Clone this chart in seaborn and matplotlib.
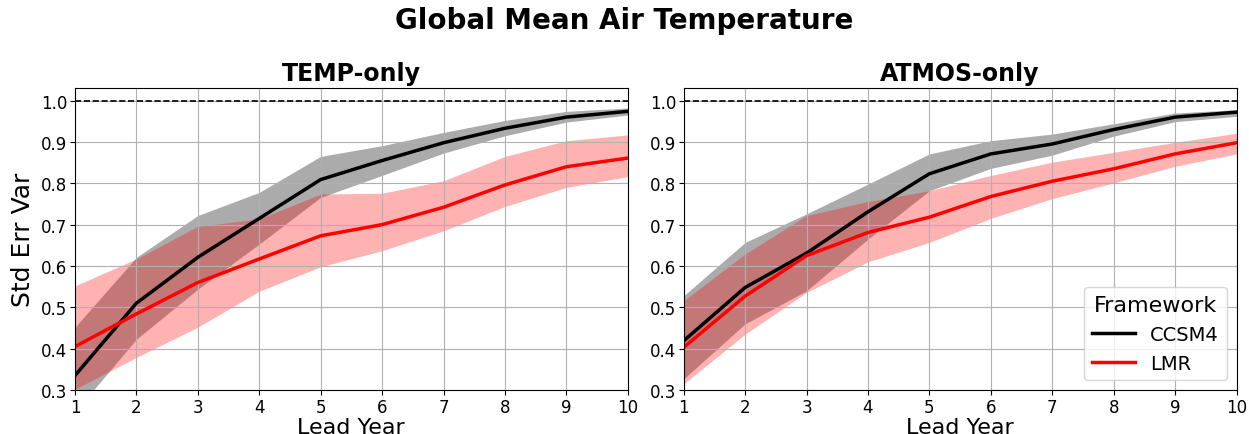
import pandas as pd
import numpy as np
import matplotlib
matplotlib.use("Agg")
import matplotlib.pyplot as plt
import seaborn as sns

lead = [1, 2, 3, 4, 5, 6, 7, 8, 9, 10]

# TEMP-only
temp_ccsm4 = [0.335, 0.51, 0.621, 0.715, 0.809, 0.855, 0.898, 0.933, 0.96, 0.974]
temp_ccsm4_hi = [0.452, 0.621, 0.722, 0.778, 0.865, 0.891, 0.923, 0.952, 0.974, 0.982]
temp_ccsm4_lo = [0.247, 0.423, 0.544, 0.653, 0.766, 0.819, 0.873, 0.915, 0.948, 0.965]
temp_lmr = [0.405, 0.484, 0.56, 0.617, 0.673, 0.70, 0.742, 0.796, 0.84, 0.861]
temp_lmr_hi = [0.552, 0.617, 0.696, 0.714, 0.774, 0.776, 0.806, 0.865, 0.903, 0.917]
temp_lmr_lo = [0.302, 0.379, 0.452, 0.539, 0.598, 0.637, 0.685, 0.744, 0.79, 0.816]

# ATMOS-only
atmos_ccsm4 = [0.419, 0.548, 0.631, 0.731, 0.823, 0.871, 0.895, 0.93, 0.96, 0.972]
atmos_ccsm4_hi = [0.528, 0.657, 0.726, 0.798, 0.871, 0.903, 0.919, 0.944, 0.97, 0.978]
atmos_ccsm4_lo = [0.327, 0.46, 0.54, 0.665, 0.782, 0.836, 0.868, 0.914, 0.949, 0.962]
atmos_lmr = [0.403, 0.527, 0.625, 0.681, 0.718, 0.768, 0.805, 0.835, 0.871, 0.898]
atmos_lmr_hi = [0.516, 0.629, 0.722, 0.756, 0.782, 0.819, 0.851, 0.875, 0.899, 0.921]
atmos_lmr_lo = [0.315, 0.435, 0.536, 0.61, 0.657, 0.715, 0.763, 0.801, 0.841, 0.871]

panels = {
    "TEMP-only": (temp_ccsm4, temp_ccsm4_lo, temp_ccsm4_hi, temp_lmr, temp_lmr_lo, temp_lmr_hi),
    "ATMOS-only": (atmos_ccsm4, atmos_ccsm4_lo, atmos_ccsm4_hi, atmos_lmr, atmos_lmr_lo, atmos_lmr_hi),
}

plt.rcParams['font.family'] = ['DejaVu Sans']

fig, axes = plt.subplots(1, 2, figsize=(12.49, 4.35), dpi=100)
fig.subplots_adjust(left=0.060, right=0.990, top=0.795, bottom=0.101, wspace=0.101)

colors = {"CCSM4": "black", "LMR": "red"}

for ax, (name, vals) in zip(axes, panels.items()):
    c, c_lo, c_hi, l, l_lo, l_hi = vals
    df = pd.DataFrame({
        "Lead Year": lead * 2,
        "Std Err Var": c + l,
        "Framework": ["CCSM4"] * len(lead) + ["LMR"] * len(lead),
    })
    ax.fill_between(lead, c_lo, c_hi, color="black", alpha=0.33, linewidth=0)
    ax.fill_between(lead, l_lo, l_hi, color="red", alpha=0.3, linewidth=0)
    sns.lineplot(data=df, x="Lead Year", y="Std Err Var", hue="Framework",
                 palette=colors, linewidth=2.5, ax=ax, legend=(name == "ATMOS-only"))
    ax.axhline(1.0, color="black", linestyle="--", linewidth=1.2)
    ax.set_xlim(1, 10)
    ax.set_ylim(0.3, 1.03)
    ax.set_xticks(lead)
    ax.set_yticks([0.3, 0.4, 0.5, 0.6, 0.7, 0.8, 0.9, 1.0])
    ax.grid(True, color="#b0b0b0", linewidth=0.8)
    ax.tick_params(labelsize=12, pad=2)
    ax.set_xlabel("Lead Year", fontsize=16, labelpad=1)
    ax.set_title(name, fontsize=17, fontweight="bold")

axes[0].set_ylabel("Std Err Var", fontsize=18)
axes[1].set_ylabel("")
leg = axes[1].legend(title="Framework", loc="lower right", fontsize=14, title_fontsize=16,
                     handlelength=2.2)

fig.suptitle("Global Mean Air Temperature", fontsize=20, fontweight="bold", y=0.985)

fig.savefig("out.png", dpi=100)
